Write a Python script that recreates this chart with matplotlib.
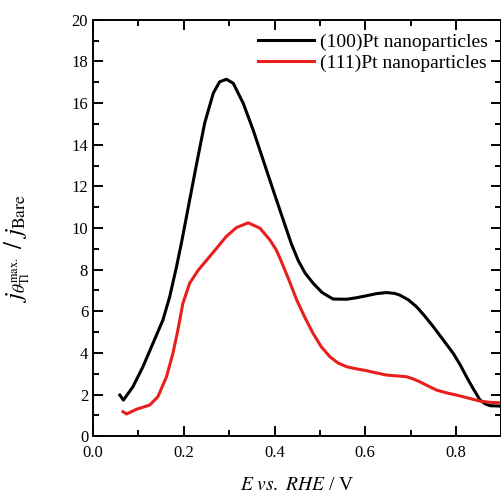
import numpy as np
import matplotlib
matplotlib.use('Agg')
import matplotlib.pyplot as plt
from matplotlib.ticker import MultipleLocator, FormatStrFormatter

# (100)Pt nanoparticles
E_100 = [0.059, 0.067, 0.088, 0.110, 0.132, 0.154, 0.169, 0.184, 0.195, 0.206,
         0.213, 0.228, 0.246, 0.265, 0.279, 0.294, 0.309, 0.331, 0.353, 0.375,
         0.397, 0.419, 0.437, 0.452, 0.467, 0.485, 0.505, 0.529, 0.559, 0.580,
         0.603, 0.625, 0.647, 0.665, 0.676, 0.695, 0.713, 0.730, 0.750, 0.772,
         0.794, 0.810, 0.823, 0.838, 0.853, 0.865, 0.875, 0.897]
j_100 = [1.98, 1.74, 2.38, 3.34, 4.46, 5.58, 6.70, 8.14, 9.30, 10.55,
         11.35, 13.05, 15.03, 16.47, 17.02, 17.14, 16.95, 15.99, 14.70, 13.26,
         11.82, 10.40, 9.25, 8.45, 7.85, 7.35, 6.90, 6.59, 6.58, 6.65,
         6.75, 6.85, 6.90, 6.86, 6.78, 6.55, 6.22, 5.80, 5.26, 4.62,
         3.98, 3.40, 2.86, 2.28, 1.74, 1.55, 1.47, 1.45]

# (111)Pt nanoparticles
E_111 = [0.066, 0.074, 0.096, 0.125, 0.143, 0.162, 0.176, 0.187, 0.198, 0.213,
         0.232, 0.254, 0.275, 0.294, 0.316, 0.342, 0.368, 0.390, 0.404, 0.412,
         0.430, 0.449, 0.467, 0.485, 0.503, 0.522, 0.540, 0.559, 0.580, 0.603,
         0.625, 0.647, 0.670, 0.691, 0.705, 0.720, 0.738, 0.757, 0.780, 0.801,
         0.828, 0.853, 0.875, 0.897]
j_111 = [1.18, 1.07, 1.30, 1.50, 1.90, 2.86, 3.98, 5.10, 6.38, 7.35,
         7.98, 8.55, 9.10, 9.60, 10.02, 10.25, 9.99, 9.42, 8.94, 8.55,
         7.60, 6.54, 5.70, 4.94, 4.30, 3.82, 3.52, 3.34, 3.24, 3.15,
         3.04, 2.94, 2.90, 2.86, 2.76, 2.62, 2.42, 2.22, 2.08, 1.98,
         1.83, 1.69, 1.63, 1.61]

plt.rcParams['font.family'] = 'Liberation Serif'
plt.rcParams['mathtext.fontset'] = 'stix'

fig = plt.figure(figsize=(5.02, 4.98), dpi=100)
ax = fig.add_axes([0.1853, 0.1239, 0.8135, 0.8365])

ax.plot(E_100, j_100, color='black', linewidth=2.2, solid_joinstyle='round',
        label='(100)Pt nanoparticles')
ax.plot(E_111, j_111, color='#e8201c', linewidth=2.2, solid_joinstyle='round',
        label='(111)Pt nanoparticles')

ax.set_xlim(0.0, 0.9)
ax.set_ylim(0, 20)
ax.xaxis.set_major_locator(MultipleLocator(0.2))
ax.xaxis.set_minor_locator(MultipleLocator(0.1))
ax.yaxis.set_major_locator(MultipleLocator(2))
ax.yaxis.set_minor_locator(MultipleLocator(1))
ax.xaxis.set_major_formatter(FormatStrFormatter('%.1f'))

ax.tick_params(which='both', direction='in', top=True, right=True, width=1.4, labelsize=12)
ax.tick_params(which='major', length=7)
ax.tick_params(which='minor', length=4)
ax.tick_params(axis='x', pad=6)
for s in ax.spines.values():
    s.set_linewidth(1.4)

ax.set_xlabel(r'$E\ vs.\ RHE$ / V', fontsize=14, labelpad=12)
ax.set_ylabel(r'$j_{\theta_{\rm Tl}^{\rm max.}}\ /\ j_{\rm Bare}$', fontsize=18)
ax.yaxis.set_label_coords(-0.15, 0.45)

leg = ax.legend(loc='upper right', frameon=False, fontsize=14, handlelength=2.9,
                handletextpad=0.3, labelspacing=0.15, borderaxespad=0.3)

fig.savefig('out.png', dpi=100)
